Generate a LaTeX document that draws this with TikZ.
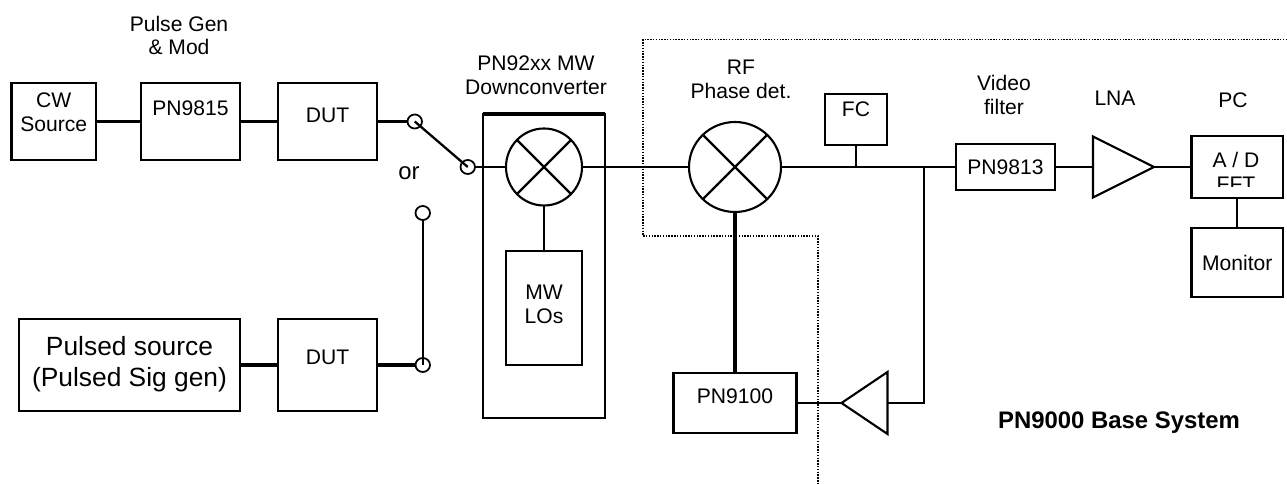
\documentclass[tikz,border=0pt]{standalone}
\usepackage{fontspec}
\setmainfont{Liberation Sans}
\usepackage{tikz}
\usetikzlibrary{shapes.geometric, positioning}

\begin{document}
\begin{tikzpicture}[
    block/.style={rectangle, draw=black, fill=white, line width=1.2pt, outer sep=0pt, inner sep=0pt, align=center, font=\fontsize{12}{13.6}\selectfont},
    bigblock/.style={block, font=\fontsize{15}{17.6}\selectfont},
    mixer/.style={ellipse, draw=black, line width=1.2pt, outer sep=0pt, inner sep=0pt},
    swpoint/.style={ellipse, draw=black, line width=1pt, outer sep=0pt, inner sep=0pt, minimum width=0.29cm, minimum height=0.28cm},
    amp/.style={isosceles triangle, isosceles triangle stretches, draw=black, line width=1.2pt, outer sep=0pt, inner sep=0pt},
    caption/.style={align=center, inner sep=0pt, font=\fontsize{12}{13.6}\selectfont},
    wire/.style={line width=1.3pt, draw=black},
    heavywire/.style={line width=1.9pt, draw=black},
    border/.style={line width=0.9pt, dash pattern=on 0.8pt off 0.8pt, draw=black}
]
\useasboundingbox (0,0) rectangle (25.74,-9.68);

% Dotted outline of the base system
\draw[border] (25.74,-0.79) -- (12.86,-0.79) -- (12.86,-4.72) -- (16.36,-4.72) -- (16.36,-9.66);

% Top row: CW path
\node[block, minimum width=1.69cm, minimum height=1.54cm, text depth=0.38cm] (cwsrc) at (1.075,-2.43) {CW\\Source};
\node[block, right=0.90cm of cwsrc, minimum width=1.98cm, minimum height=1.54cm, text depth=0.54cm] (pn9815) {PN9815};
\node[block, right=0.76cm of pn9815, minimum width=1.98cm, minimum height=1.54cm, text depth=0.24cm] (dutcw) {DUT};
\node[swpoint, right=0.61cm of dutcw] (swcw) {};

% Downconverter
\node[block, minimum width=2.44cm, minimum height=6.08cm] (dconv) at (10.88,-5.32) {};
\node[mixer, fill=white, minimum width=1.52cm, minimum height=1.54cm] (mixdown) at (10.88,-3.34) {};
\node[swpoint, left=0.62cm of mixdown] (swout) {};
\node[block, below=0.91cm of mixdown, minimum width=1.52cm, minimum height=2.28cm, text depth=0.16cm] (mwlo) {MW\\LOs};

% Bottom row: pulsed path
\node[bigblock, minimum width=4.42cm, minimum height=1.84cm, text depth=0.14cm] (pulsed) at (2.59,-7.30) {Pulsed source\\(Pulsed Sig gen)};
\node[block, right=0.76cm of pulsed, minimum width=1.98cm, minimum height=1.84cm, text depth=0.32cm] (dutpulsed) {DUT};
\node[swpoint, right=0.77cm of dutpulsed] (swpulsed) {};
\node[swpoint, above=2.76cm of swpulsed] (swopen) {};

% Base system chain
\node[mixer, right=2.14cm of mixdown, minimum width=1.84cm, minimum height=1.80cm] (mixrf) {};
\node[block, minimum width=1.24cm, minimum height=1.02cm, text depth=0.4cm] (fc) at (17.12,-2.39) {FC};
\node[block, right=3.5cm of mixrf, minimum width=1.98cm, minimum height=0.92cm] (pn9813) {PN9813};
\node[amp, right=0.76cm of pn9813, minimum width=1.22cm, minimum height=1.22cm] (lna) {};
\node[block, right=0.75cm of lna, minimum width=1.83cm, minimum height=1.24cm] (pc) {};
\node[block, below=0.6cm of pc, minimum width=1.83cm, minimum height=1.38cm] (monitor) {Monitor};

% Feedback loop
\node[block, below=3.22cm of mixrf, minimum width=2.46cm, minimum height=1.2cm, text depth=0.28cm] (pn9100) {PN9100};
\node[amp, right=0.90cm of pn9100, shape border rotate=180, minimum width=1.24cm, minimum height=0.92cm] (ampfb) {};

% Text inside the PC box
\node[caption] (pcad) at (24.72,-3.2) {A / D};
\begin{scope}
\clip (23.85,-3.4) rectangle (25.6,-3.74);
\node[caption] (pcfft) at (24.72,-3.69) {FFT};
\end{scope}

% Labels
\node[caption] (lblpulse) at (3.58,-0.71) {Pulse Gen\\\& Mod};
\node[caption] (lbldown) at (10.72,-1.5) {PN92xx MW\\Downconverter};
\node[caption] (lblrf) at (14.82,-1.58) {RF\\Phase det.};
\node[caption] (lblvideo) at (20.08,-1.9) {Video\\filter};
\node[caption] (lbllna) at (22.3,-1.96) {LNA};
\node[caption] (lblpc) at (24.66,-2.0) {PC};
\node[caption, font=\fontsize{13.6}{16}\selectfont] (lblor) at (8.18,-3.46) {or};
\node[caption, font=\fontsize{13.6}{16}\selectfont\bfseries] (lblbase) at (22.38,-8.46) {PN9000 Base System};

% Mixer crosses
\draw[wire] (mixdown.45) -- (mixdown.225);
\draw[wire] (mixdown.135) -- (mixdown.315);
\draw[wire] (mixrf.45) -- (mixrf.225);
\draw[wire] (mixrf.135) -- (mixrf.315);

% Top row wiring
\draw[wire] (cwsrc) -- (pn9815);
\draw[wire] (pn9815) -- (dutcw);
\draw[wire] (dutcw) -- (swcw);
\draw[wire] (swcw.center) -- (swout.center);
\draw[wire] (swout) -- (mixdown);
\draw[wire] (mixdown) -- (mwlo);
\draw[wire] (mixdown) -- (mixrf);

% Bottom row wiring
\draw[heavywire] (pulsed) -- (dutpulsed);
\draw[heavywire] (dutpulsed) -- (swpulsed);
\draw[wire] (swopen) -- (swpulsed.center);

% Base system wiring
\coordinate (fcjoin) at (fc.south |- mixrf);
\coordinate (fbjoin) at (18.48,-3.34);
\draw[wire] (mixrf) -- (pn9813);
\draw[wire] (fc) -- (fcjoin);
\draw[wire] (pn9813) -- (lna);
\draw[wire] (lna.apex) -- (pc);
\draw[wire] (pc) -- (monitor);
\draw[heavywire] (mixrf) -- (pn9100);
\draw[wire] (pn9100) -- (ampfb.apex);
\draw[wire] (fbjoin) |- (ampfb.east);

% Thicker top edge of the downconverter
\draw[heavywire] (dconv.north west) -- (dconv.north east);

\end{tikzpicture}
\end{document}
